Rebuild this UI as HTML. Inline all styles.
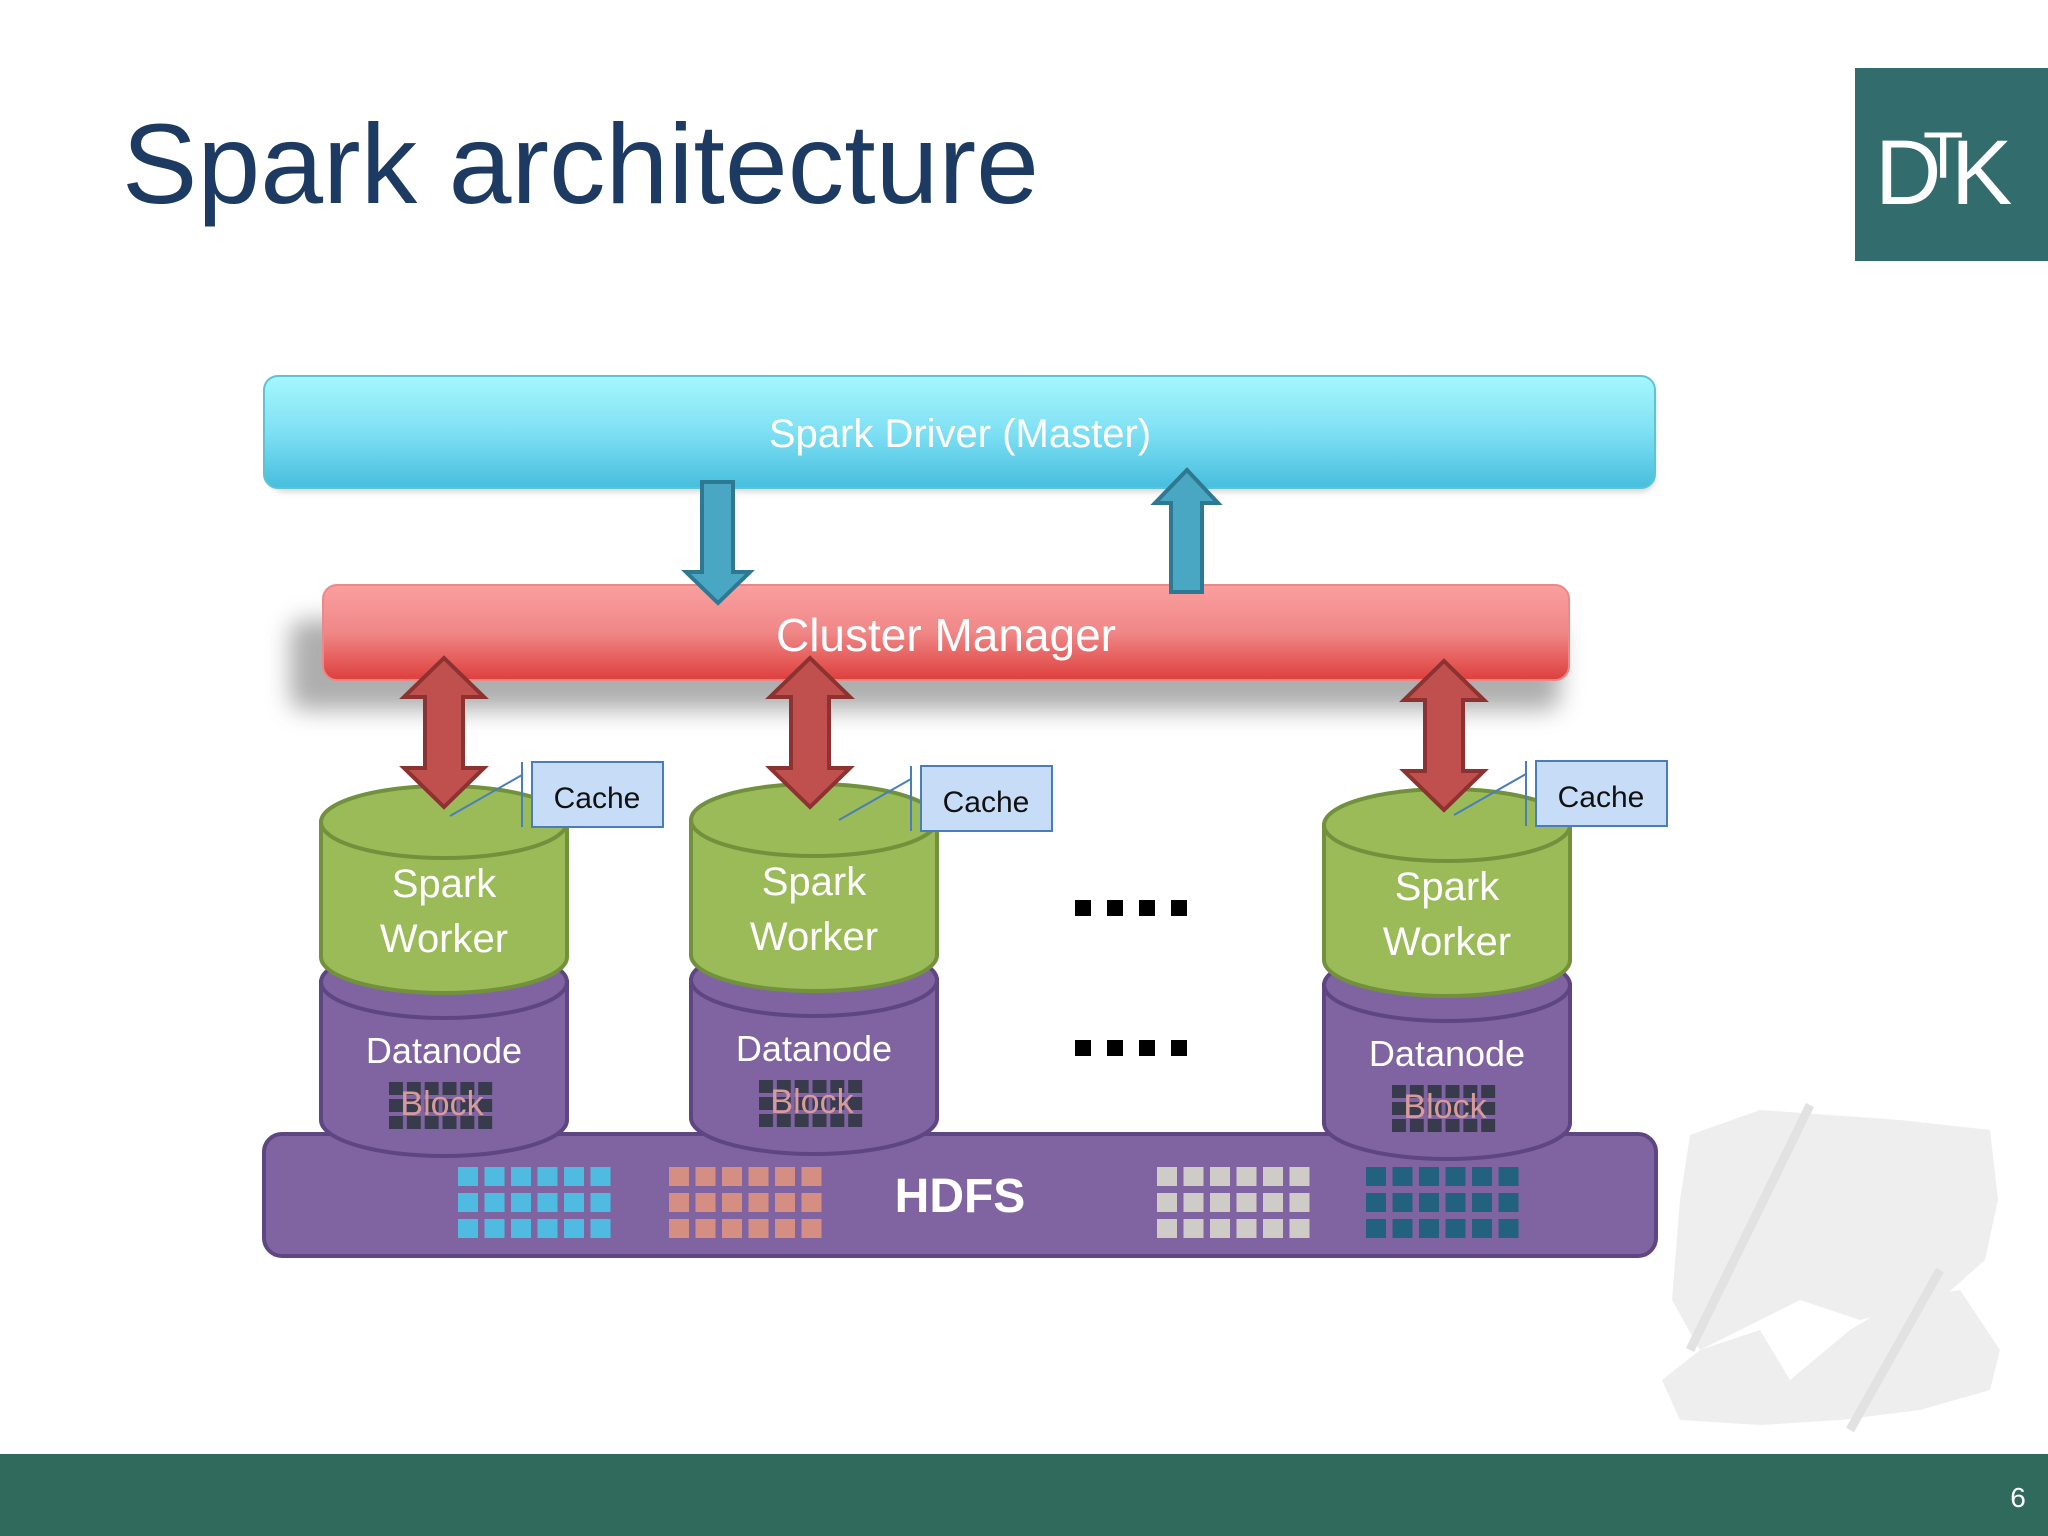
<!DOCTYPE html>
<html><head><meta charset="utf-8"><style>
html,body{margin:0;padding:0;background:#fff;}
svg{display:block;}
text{font-family:"Liberation Sans",sans-serif;}
</style></head><body>
<svg width="2048" height="1536" viewBox="0 0 2048 1536" xmlns="http://www.w3.org/2000/svg">
<defs>
<linearGradient id="gb" x1="0" y1="0" x2="0" y2="1"><stop offset="0" stop-color="#a6f7fc"/><stop offset="0.5" stop-color="#7fe0f4"/><stop offset="1" stop-color="#46bedd"/></linearGradient>
<linearGradient id="gr" x1="0" y1="0" x2="0" y2="1"><stop offset="0" stop-color="#fb9f9f"/><stop offset="0.5" stop-color="#f08787"/><stop offset="1" stop-color="#dd3f3c"/></linearGradient>
<filter id="bl" x="-20%" y="-50%" width="140%" height="200%"><feGaussianBlur stdDeviation="12"/></filter>
<filter id="bl2"><feGaussianBlur stdDeviation="3"/></filter>
<pattern id="pblue" x="458" y="1167" width="26.5" height="26" patternUnits="userSpaceOnUse"><rect width="20" height="19" fill="#4fbbe0"/></pattern>
<pattern id="ppink" x="669" y="1167" width="26.5" height="26" patternUnits="userSpaceOnUse"><rect width="20" height="19" fill="#d58f82"/></pattern>
<pattern id="pgray" x="1157" y="1167" width="26.5" height="26" patternUnits="userSpaceOnUse"><rect width="20" height="19" fill="#cfcbc7"/></pattern>
<pattern id="pteal" x="1366" y="1167" width="26.5" height="26" patternUnits="userSpaceOnUse"><rect width="20" height="19" fill="#23627e"/></pattern>
<pattern id="pdark" x="0" y="0" width="0.1667" height="0.3333" patternUnits="objectBoundingBox" patternContentUnits="userSpaceOnUse"><rect width="14" height="13" fill="#373b4c"/></pattern>
</defs>

<text x="122" y="203" font-size="113" fill="#1d3b62">Spark architecture</text>

<rect x="1855" y="68" width="193" height="193" fill="#336c6c"/>
<text x="1875" y="204" font-size="92" fill="#fff">D</text>
<text x="1923" y="178" font-size="66" fill="#fff">T</text>
<text x="1951" y="204" font-size="92" fill="#fff">K</text>

<!-- watermark -->
<g fill="#eeeeee">
<path d="M1690 1135 L1760 1110 L1900 1120 L1990 1130 L1998 1200 L1985 1260 L1940 1300 L1860 1320 L1800 1300 L1740 1330 L1700 1350 L1672 1300 L1680 1200 Z"/>
<path d="M1700 1350 L1760 1330 L1790 1380 L1850 1330 L1900 1300 L1960 1290 L2000 1350 L1990 1390 L1920 1410 L1840 1420 L1760 1425 L1680 1420 L1662 1380 Z"/>
</g>
<line x1="1810" y1="1105" x2="1690" y2="1350" stroke="#e2e2e2" stroke-width="9"/>
<line x1="1940" y1="1270" x2="1850" y2="1430" stroke="#e2e2e2" stroke-width="9"/>

<rect x="270" y="386" width="1385" height="106" rx="14" fill="#bbb" filter="url(#bl2)" opacity="0.6"/>
<rect x="264" y="376" width="1391" height="112" rx="14" fill="url(#gb)" stroke="#5fc3d8" stroke-width="2"/>
<text x="960" y="447" font-size="40" fill="#fff" text-anchor="middle">Spark Driver (Master)</text>

<rect x="290" y="620" width="1270" height="90" rx="14" fill="#9a9a9a" filter="url(#bl)" opacity="0.8"/>
<rect x="323" y="585" width="1246" height="95" rx="14" fill="url(#gr)" stroke="#e88" stroke-width="2"/>
<text x="946" y="651" font-size="46" fill="#fff" text-anchor="middle">Cluster Manager</text>

<path d="M702 482 L733 482 L733 572 L750 572 L718 603 L686 572 L702 572 Z" fill="#4aa7c3" stroke="#2f7892" stroke-width="4"/>
<path d="M1171 592 L1202 592 L1202 503 L1218 503 L1187 470 L1155 503 L1171 503 Z" fill="#4aa7c3" stroke="#2f7892" stroke-width="4"/>

<rect x="264" y="1134" width="1392" height="122" rx="18" fill="#8064a2" stroke="#5d4682" stroke-width="4"/>

<g>
<path d="M321 982 L321 1120 A123 36 0 0 0 567 1120 L567 982 Z" fill="#8064a2" stroke="#5d4682" stroke-width="4"/>
<ellipse cx="444" cy="982" rx="123" ry="36" fill="#8064a2" stroke="#5d4682" stroke-width="4"/>
<path d="M321 822 L321 957 A123 36 0 0 0 567 957 L567 822 Z" fill="#9bbb59" stroke="#72913c" stroke-width="4"/>
<ellipse cx="444" cy="822" rx="123" ry="36" fill="#9bbb59" stroke="#72913c" stroke-width="4"/>
<text x="444" y="897" font-size="40" fill="#fff" text-anchor="middle">Spark</text>
<text x="444" y="952" font-size="40" fill="#fff" text-anchor="middle">Worker</text>
<text x="444" y="1063" font-size="36" fill="#fff" text-anchor="middle">Datanode</text>
<rect x="389" y="1082" width="107" height="51" fill="url(#pdark)"/>
<text x="442" y="1115" font-size="34" fill="#d99a9a" text-anchor="middle">Block</text>
</g>
<g transform="translate(370,-2)">
<path d="M321 982 L321 1120 A123 36 0 0 0 567 1120 L567 982 Z" fill="#8064a2" stroke="#5d4682" stroke-width="4"/>
<ellipse cx="444" cy="982" rx="123" ry="36" fill="#8064a2" stroke="#5d4682" stroke-width="4"/>
<path d="M321 822 L321 957 A123 36 0 0 0 567 957 L567 822 Z" fill="#9bbb59" stroke="#72913c" stroke-width="4"/>
<ellipse cx="444" cy="822" rx="123" ry="36" fill="#9bbb59" stroke="#72913c" stroke-width="4"/>
<text x="444" y="897" font-size="40" fill="#fff" text-anchor="middle">Spark</text>
<text x="444" y="952" font-size="40" fill="#fff" text-anchor="middle">Worker</text>
<text x="444" y="1063" font-size="36" fill="#fff" text-anchor="middle">Datanode</text>
<rect x="389" y="1082" width="107" height="51" fill="url(#pdark)"/>
<text x="442" y="1115" font-size="34" fill="#d99a9a" text-anchor="middle">Block</text>
</g>
<g transform="translate(1003,3)">
<path d="M321 982 L321 1120 A123 36 0 0 0 567 1120 L567 982 Z" fill="#8064a2" stroke="#5d4682" stroke-width="4"/>
<ellipse cx="444" cy="982" rx="123" ry="36" fill="#8064a2" stroke="#5d4682" stroke-width="4"/>
<path d="M321 822 L321 957 A123 36 0 0 0 567 957 L567 822 Z" fill="#9bbb59" stroke="#72913c" stroke-width="4"/>
<ellipse cx="444" cy="822" rx="123" ry="36" fill="#9bbb59" stroke="#72913c" stroke-width="4"/>
<text x="444" y="897" font-size="40" fill="#fff" text-anchor="middle">Spark</text>
<text x="444" y="952" font-size="40" fill="#fff" text-anchor="middle">Worker</text>
<text x="444" y="1063" font-size="36" fill="#fff" text-anchor="middle">Datanode</text>
<rect x="389" y="1082" width="107" height="51" fill="url(#pdark)"/>
<text x="442" y="1115" font-size="34" fill="#d99a9a" text-anchor="middle">Block</text>
</g>

<rect x="458" y="1167" width="158" height="76" fill="url(#pblue)"/>
<rect x="669" y="1167" width="158" height="76" fill="url(#ppink)"/>
<rect x="1157" y="1167" width="158" height="76" fill="url(#pgray)"/>
<rect x="1366" y="1167" width="158" height="76" fill="url(#pteal)"/>
<text x="960" y="1212" font-size="48" font-weight="bold" fill="#fff" text-anchor="middle">HDFS</text>

<g fill="#c0504d" stroke="#8c3230" stroke-width="4">
<path d="M425 697 L404 697 L444 658 L484 697 L463 697 L463 768 L484 768 L444 807 L404 768 L425 768 Z"/>
<path transform="translate(366,0)" d="M425 697 L404 697 L444 658 L484 697 L463 697 L463 768 L484 768 L444 807 L404 768 L425 768 Z"/>
<path transform="translate(1000,3)" d="M425 697 L404 697 L444 658 L484 697 L463 697 L463 768 L484 768 L444 807 L404 768 L425 768 Z"/>
</g>

<g>
<rect x="532" y="762" width="131" height="65" fill="#c6dcf7" stroke="#4a7ebb" stroke-width="2"/>
<line x1="522" y1="762" x2="522" y2="827" stroke="#4a7ebb" stroke-width="2"/>
<line x1="522" y1="775" x2="450" y2="816" stroke="#4a7ebb" stroke-width="2"/>
<text x="597" y="808" font-size="30" fill="#111" text-anchor="middle">Cache</text>
</g>
<g transform="translate(389,4)">
<rect x="532" y="762" width="131" height="65" fill="#c6dcf7" stroke="#4a7ebb" stroke-width="2"/>
<line x1="522" y1="762" x2="522" y2="827" stroke="#4a7ebb" stroke-width="2"/>
<line x1="522" y1="775" x2="450" y2="816" stroke="#4a7ebb" stroke-width="2"/>
<text x="597" y="808" font-size="30" fill="#111" text-anchor="middle">Cache</text>
</g>
<g transform="translate(1004,-1)">
<rect x="532" y="762" width="131" height="65" fill="#c6dcf7" stroke="#4a7ebb" stroke-width="2"/>
<line x1="522" y1="762" x2="522" y2="827" stroke="#4a7ebb" stroke-width="2"/>
<line x1="522" y1="775" x2="450" y2="816" stroke="#4a7ebb" stroke-width="2"/>
<text x="597" y="808" font-size="30" fill="#111" text-anchor="middle">Cache</text>
</g>

<g fill="#000">
<rect x="1075" y="900" width="16" height="16"/><rect x="1107" y="900" width="16" height="16"/><rect x="1139" y="900" width="16" height="16"/><rect x="1171" y="900" width="16" height="16"/>
<rect x="1075" y="1040" width="16" height="16"/><rect x="1107" y="1040" width="16" height="16"/><rect x="1139" y="1040" width="16" height="16"/><rect x="1171" y="1040" width="16" height="16"/>
</g>

<rect x="0" y="1454" width="2048" height="82" fill="#2f6a5d"/>
<text x="2018" y="1507" font-size="28" fill="#fff" text-anchor="middle">6</text>
</svg>
</body></html>
